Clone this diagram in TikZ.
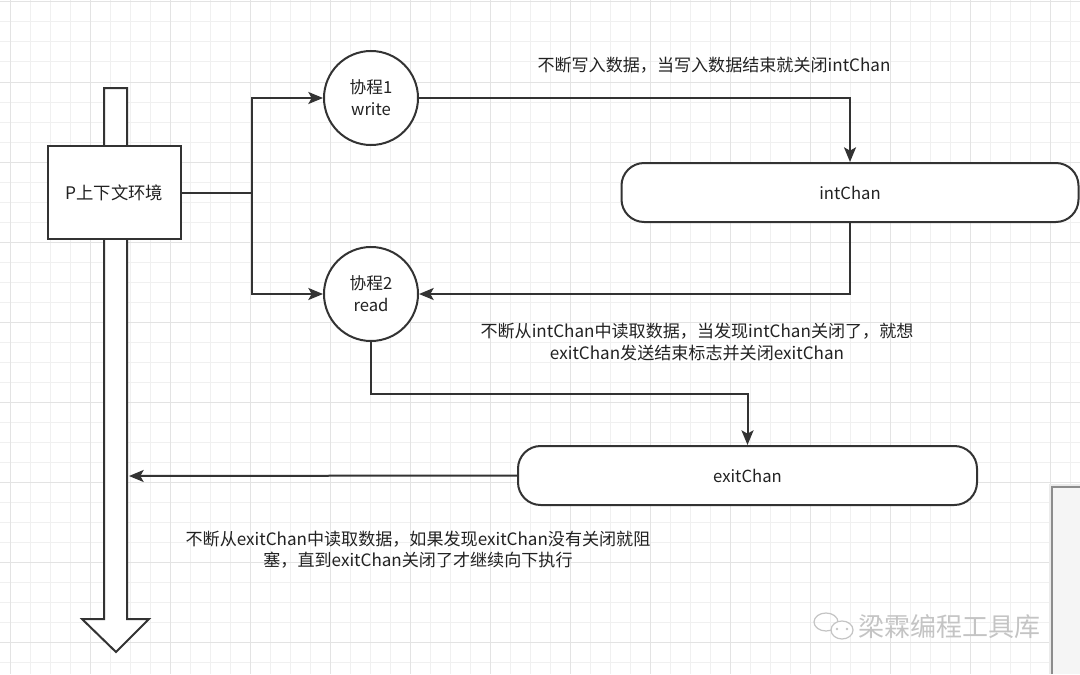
\documentclass[tikz,border=0pt]{standalone}
\usepackage{fontspec}
\setmainfont{Noto Sans CJK SC}
\usetikzlibrary{arrows.meta}
\definecolor{ink}{HTML}{333333}
\definecolor{txt}{HTML}{222222}
\definecolor{gridminor}{HTML}{F0F0F0}
\definecolor{gridmajor}{HTML}{E3E3E3}
\definecolor{wm}{HTML}{C4C4C4}
\begin{document}
\begin{tikzpicture}[x=0.75pt,y=-0.75pt,
  line/.style={draw=ink,line width=1.5pt},
  arr/.style={line,-{Stealth[length=11pt,width=9pt,inset=2.5pt]}},
  box/.style={draw=ink,line width=1.5pt,fill=white,minimum width=133*0.75pt,minimum height=93*0.75pt,inner sep=0pt,font=\fontsize{13}{16}\selectfont,text=txt},
  proc/.style={circle,draw=ink,line width=1.5pt,fill=white,minimum size=94*0.75pt,inner sep=0pt,align=center,font=\fontsize{12.5}{16.5}\selectfont,text=txt},
  chan/.style={draw=ink,line width=1.5pt,fill=white,rounded corners=17pt,minimum height=59*0.75pt,inner sep=0pt,font=\fontsize{12.5}{16}\selectfont,text=txt},
  note/.style={align=center,font=\fontsize{12.8}{16}\selectfont,text=txt,inner sep=0pt}]
\useasboundingbox (0,0) rectangle (1080,674);
\fill[white] (0,0) rectangle (1080,674);
% grid
\foreach \x in {10,30,...,1070} \draw[gridminor,line width=0.75pt] (\x,0) -- (\x,674);
\foreach \y in {2,22,...,672} \draw[gridminor,line width=0.75pt] (0,\y) -- (1080,\y);
\foreach \x in {10,90,...,1070} \draw[gridmajor,line width=0.75pt] (\x,0) -- (\x,674);
\foreach \y in {2,82,...,672} \draw[gridmajor,line width=0.75pt] (0,\y) -- (1080,\y);
% side panel
\fill[black!8] (1049,484) rectangle (1080,674);
\fill[black!4] (1052,487) rectangle (1080,674);
\draw[black!45,line width=0.8pt] (1052,674) -- (1052,487) -- (1080,487);
% big flow arrow
\draw[line,fill=white,line join=miter] (104,88) -- (127,88) -- (127,619) -- (149,619) -- (116,652) -- (82,619) -- (104,619) -- cycle;
\coordinate (shaft) at (129,476);
% nodes
\node[box] (p) at (114.5,192.5) {P上下文环境};
\node[proc] (w) at (371,98) {协程1\\write};
\node[proc] (r) at (371,294) {协程2\\read};
\node[chan,minimum width=457*0.75pt] (ic) at (850,192.5) {intChan};
\node[chan,minimum width=459*0.75pt] (ec) at (747.5,475.5) {exitChan};
\coordinate (j) at (252,192.5);
% connectors
\draw[line] (p.east) -- (j);
\draw[arr] (j) |- (w.west);
\draw[arr] (j) |- (r.west);
\draw[arr] (w.east) -| (ic.north);
\draw[arr] (ic.south) |- (r.east);
\draw[arr] (r.south) -- ++(0,52) -| (ec.north);
\draw[arr] (ec.west) -- (shaft);
% notes
\node[note] (n1) at (714,65) {不断写入数据，当写入数据结束就关闭intChan};
\node[note] (n2) at (697,342) {不断从intChan中读取数据，当发现intChan关闭了，就想\\exitChan发送结束标志并关闭exitChan};
\node[note] (n3) at (418,550) {不断从exitChan中读取数据，如果发现exitChan没有关闭就阻\\塞，直到exitChan关闭了才继续向下执行};
% watermark
\node[font=\fontsize{19.5}{22}\selectfont,text=wm,inner sep=0pt,anchor=west] (wmk) at (858,627) {梁霖编程工具库};
\draw[wm,line width=0.9pt] (826,622) ellipse [x radius=12, y radius=9];
\draw[wm,line width=0.9pt,fill=white] (842,630) ellipse [x radius=11, y radius=9];
\foreach \xx in {837,847} \fill[wm] (\xx,629) circle (1.3);
\end{tikzpicture}
\end{document}
